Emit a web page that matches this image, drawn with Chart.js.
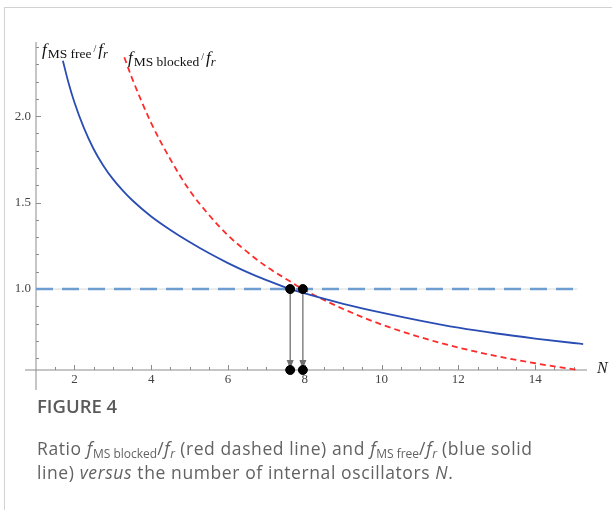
<!DOCTYPE html>
<html>
<head>
<meta charset="utf-8">
<script src="https://cdn.jsdelivr.net/npm/chart.js@4.4.1/dist/chart.umd.min.js"></script>
<style>
html, body { margin: 0; padding: 0; background: #fff; overflow: hidden; }
body { width: 612px; height: 510px; position: relative; }
.frame { position: absolute; left: 4px; top: 7px; width: 700px; height: 600px; border: 1px solid #d2d2d2; }
.plot { position: absolute; left: 0; top: 0; width: 612px; height: 395px; }
.caption { position: absolute; left: 37px; top: 394px; width: 570px; font-family: "Open Sans", sans-serif; color: #626262; }
.caption .title { font-size: 18.5px; font-weight: 600; line-height: 24px; color: #5a5a5a; }
.caption .text { margin-top: 18px; font-size: 17.5px; letter-spacing: 0.6px; line-height: 24px; }
.caption sub { font-size: 12px; letter-spacing: 0; vertical-align: -3px; line-height: 0; }
</style>
</head>
<body>
<div class="frame"></div>
<div class="plot"><canvas id="cv"></canvas></div>
<div class="caption">
  <div class="title">FIGURE 4</div>
  <div class="text">Ratio <i>f</i><sub>MS blocked</sub>/<i>f<sub>r</sub></i> (red dashed line) and <i>f</i><sub>MS free</sub>/<i>f<sub>r</sub></i> (blue solid<br>line) <i>versus</i> the number of internal oscillators <i>N</i>.</div>
</div>
<script>
// values
const freeN = [1.7, 1.85, 2.0, 2.25, 2.5, 2.75, 3.0, 3.25, 3.5, 4.0, 4.5, 5.0, 5.5, 6.0, 6.5, 7.0, 7.62, 8.0, 9.0, 10.0, 11.0, 12.0, 13.0, 14.0, 15.0, 15.25];
const freeRatio = [2.32, 2.19, 2.08, 1.93, 1.81, 1.715, 1.637, 1.572, 1.515, 1.42, 1.342, 1.272, 1.208, 1.15, 1.098, 1.052, 1.0, 0.975, 0.915, 0.864, 0.818, 0.777, 0.743, 0.714, 0.688, 0.682];

const blockedN = [3.3, 3.5, 4.0, 4.5, 5.0, 5.5, 6.0, 6.5, 7.0, 7.5, 7.95, 9.0, 10.0, 11.0, 12.0, 13.0, 14.0, 15.05];
const blockedRatio = [2.34, 2.22, 1.96, 1.75, 1.57, 1.43, 1.31, 1.215, 1.13, 1.06, 1.0, 0.885, 0.795, 0.722, 0.662, 0.612, 0.571, 0.534];

const refLevel = 1.0;
const refRange = [1.0, 15.1];
const crossings = [7.62, 7.95];

const xTicks = [2, 4, 6, 8, 10, 12, 14];
const yTicks = ['1.0', '1.5', '2.0'];
const xMin = 1.0, xMax = 15.35;
const yMin = 0.532, yMax = 2.44;

const pts = (xs, ys) => xs.map((x, i) => ({ x: x, y: ys[i] }));

const serif = '"Liberation Serif", "Times New Roman", serif';

function ratioLabel(ctx, x, y, word, color) {
    ctx.fillStyle = color;
    ctx.textAlign = 'left';
    ctx.textBaseline = 'alphabetic';
    ctx.font = 'italic 17px ' + serif;
    ctx.fillText('f', x, y);
    x += ctx.measureText('f').width + 1;
    ctx.font = '13.5px ' + serif;
    ctx.fillText('MS ' + word, x, y + 3);
    x += ctx.measureText('MS ' + word).width + 2;
    ctx.font = '10px ' + serif;
    ctx.fillText('/', x, y - 3);
    x += ctx.measureText('/').width + 2;
    ctx.font = 'italic 17px ' + serif;
    ctx.fillText('f', x, y);
    x += ctx.measureText('f').width;
    ctx.font = 'italic 12.5px ' + serif;
    ctx.fillText('r', x, y + 3);
}

const axesPlugin = {
    id: 'mmaAxes',
    beforeDatasetsDraw(chart) {
        const ctx = chart.ctx;
        const xs = chart.scales.x, ys = chart.scales.y;
        const x0 = xs.getPixelForValue(xMin);
        const y0 = ys.getPixelForValue(yMin);
        ctx.save();
        // light grid line at 1.0
        ctx.strokeStyle = '#d8d8d8';
        ctx.lineWidth = 1;
        ctx.beginPath();
        ctx.moveTo(x0, ys.getPixelForValue(refLevel));
        ctx.lineTo(xs.getPixelForValue(refRange[1]), ys.getPixelForValue(refLevel));
        ctx.stroke();

        ctx.strokeStyle = '#8c8c8c';
        ctx.lineWidth = 1;
        ctx.beginPath();
        ctx.moveTo(x0 - 11, y0);
        ctx.lineTo(xs.getPixelForValue(xMax), y0);
        ctx.moveTo(x0, ys.getPixelForValue(yMax) + 2);
        ctx.lineTo(x0, y0 + 20);
        // x ticks every 0.5, major at labelled values
        for (let v = 1.5; v <= 15.01; v += 0.5) {
            const px = Math.round(xs.getPixelForValue(v)) + 0.5;
            const len = xTicks.includes(v) ? 5 : 3;
            ctx.moveTo(px, y0);
            ctx.lineTo(px, y0 - len);
        }
        // y ticks every 0.1
        for (let k = 6; k <= 24; k++) {
            const v = k / 10;
            const py = Math.round(ys.getPixelForValue(v)) + 0.5;
            const len = yTicks.includes(v.toFixed(1)) ? 5 : 3;
            ctx.moveTo(x0, py);
            ctx.lineTo(x0 + len, py);
        }
        ctx.stroke();

        ctx.fillStyle = '#444';
        ctx.font = '13px ' + serif;
        ctx.textAlign = 'center';
        ctx.textBaseline = 'top';
        xTicks.forEach(v => ctx.fillText(String(v), xs.getPixelForValue(v), y0 + 3));
        ctx.textAlign = 'right';
        ctx.textBaseline = 'middle';
        yTicks.forEach(t => ctx.fillText(t, x0 - 5, ys.getPixelForValue(parseFloat(t))));

        ctx.fillStyle = '#222';
        ctx.font = 'italic 16px ' + serif;
        ctx.textAlign = 'left';
        ctx.fillText('N', xs.getPixelForValue(xMax) + 10, y0 - 1);

        // arrows from crossings down to the axis
        ctx.strokeStyle = '#707070';
        ctx.fillStyle = '#707070';
        ctx.lineWidth = 1.3;
        crossings.forEach(c => {
            const px = xs.getPixelForValue(c);
            const top = ys.getPixelForValue(refLevel);
            ctx.beginPath();
            ctx.moveTo(px, top);
            ctx.lineTo(px, y0 - 6);
            ctx.stroke();
            ctx.beginPath();
            ctx.moveTo(px, y0 - 1);
            ctx.lineTo(px - 3.5, y0 - 10);
            ctx.lineTo(px + 3.5, y0 - 10);
            ctx.closePath();
            ctx.fill();
        });
        ctx.restore();
    },
    afterDraw(chart) {
        const ctx = chart.ctx;
        ctx.save();
        ratioLabel(ctx, 42, 55, 'free', '#111');
        ratioLabel(ctx, 128, 63, 'blocked', '#111');
        ctx.restore();
    }
};

const dots = [];
crossings.forEach(c => { dots.push({ x: c, y: refLevel }); dots.push({ x: c, y: yMin }); });

new Chart(document.getElementById('cv'), {
    type: 'scatter',
    data: {
        datasets: [
            {
                data: dots,
                backgroundColor: '#000',
                borderColor: '#000',
                pointRadius: 4.5,
                showLine: false,
                clip: false,
                order: 0
            },
            {
                data: pts(freeN, freeRatio),
                showLine: true,
                borderColor: '#2a4db3',
                borderWidth: 1.8,
                pointRadius: 0,
                cubicInterpolationMode: 'monotone',
                clip: false,
                order: 1
            },
            {
                data: pts(blockedN, blockedRatio),
                showLine: true,
                borderColor: '#ff2a2a',
                borderWidth: 1.8,
                borderDash: [6, 4],
                pointRadius: 0,
                cubicInterpolationMode: 'monotone',
                clip: false,
                order: 2
            },
            {
                data: pts(refRange, [refLevel, refLevel]),
                showLine: true,
                borderColor: '#6e9dd0',
                borderWidth: 2.4,
                borderDash: [17, 9],
                pointRadius: 0,
                clip: false,
                order: 3
            }
        ]
    },
    options: {
        responsive: true,
        maintainAspectRatio: false,
        animation: false,
        layout: { padding: { left: 36, right: 25, top: 40, bottom: 25 } },
        plugins: { legend: { display: false }, tooltip: { enabled: false } },
        scales: {
            x: { type: 'linear', min: xMin, max: xMax, display: false },
            y: { type: 'linear', min: yMin, max: yMax, display: false }
        }
    },
    plugins: [axesPlugin]
});
</script>
</body>
</html>
